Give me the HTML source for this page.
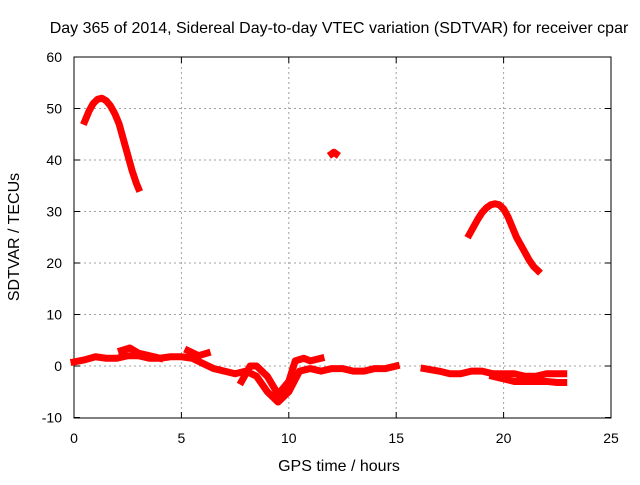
<!DOCTYPE html>
<html><head><meta charset="utf-8"><style>
body{margin:0;background:#fff}
svg text{font-family:"Liberation Sans",sans-serif;font-size:14px;fill:#000}
svg text.big{font-size:16px}
</style></head><body>
<svg id="chart" width="640" height="480">
<rect width="640" height="480" fill="#fff"/>
<text class="big" x="339" y="33" text-anchor="middle">Day 365 of 2014, Sidereal Day-to-day VTEC variation (SDTVAR) for receiver cpar</text>
<g id="grid"></g>
<g id="axes"></g>
<g id="series"></g>
<text class="big" x="339" y="471" text-anchor="middle">GPS time / hours</text>
<text class="big" transform="translate(19,237) rotate(-90)" text-anchor="middle">SDTVAR / TECUs</text>
</svg>
<script>
const xTicks=[0,5,10,15,20,25];
const yTicks=[-10,0,10,20,30,40,50,60];
const arcT1=[0.5,0.7,0.9,1.1,1.3,1.5,1.7,1.9,2.1,2.3,2.5,2.7,2.9,3.0];
const arcV1=[47.5,49.5,51,51.8,52,51.5,50.5,49,47,44,41,38,35.5,34.5];
const dotT=[12.0,12.1,12.2];
const dotV=[41.2,41.5,41.2];
const arcT2=[18.4,18.6,18.8,19.0,19.2,19.4,19.6,19.8,20.0,20.2,20.4,20.6,20.8,21.0,21.2,21.4,21.6];
const arcV2=[25.5,27,28.5,29.8,30.7,31.3,31.5,31.3,30.5,29,27,25,23.5,22,20.5,19.3,18.5];
const lowT1=[0,0.5,1,1.5,2,2.5,3,3.5,4,4.5,5,5.5,6,6.5,7,7.5,8,8.5,9,9.5,10,10.5,11,11.5,12,12.5,13,13.5,14,14.5,15];
const lowV1=[0.8,1.2,1.8,1.5,1.5,2,2,1.5,1.5,1.8,1.8,1.5,0.5,-0.5,-1,-1.5,-1,-2,-5,-7,-5,-1,-0.5,-1,-0.5,-0.5,-1,-1,-0.5,-0.5,0];
const lowT2=[16.3,17,17.5,18,18.5,19,19.5,20,20.5,21,21.5,22,22.5,22.8];
const lowV2=[-0.5,-1,-1.5,-1.5,-1,-1,-1.5,-1.5,-1.5,-2,-2,-1.5,-1.5,-1.5];
const brT1=[2.2,2.6,3,3.5,4];
const brV1=[3,3.5,2.5,2,1.5];
const brT2=[5.3,5.8,6.2];
const brV2=[3,2,2.5];
const brT3=[7.8,8.2,8.5,9,9.5,10,10.3,10.7,11,11.5];
const brV3=[-3,0,0,-2,-5.5,-3,1,1.5,1,1.5];
const brT4=[19.5,20,20.5,21,21.5,22,22.5,22.8];
const brV4=[-2,-2.5,-3,-3,-3,-3,-3.2,-3.2];

const X=t=>74+t*(611-74)/25;
const Y=v=>366-v*(366-57)/60;
const NS='http://www.w3.org/2000/svg';
function mk(tag,attrs,parent){const e=document.createElementNS(NS,tag);for(const k in attrs)e.setAttribute(k,attrs[k]);parent.appendChild(e);return e;}
const grid=document.getElementById('grid'),axes=document.getElementById('axes'),ser=document.getElementById('series');
xTicks.forEach(t=>{
  if(t>0&&t<25){const l=mk('line',{x1:X(t),x2:X(t),y1:57,y2:418,stroke:'#a0a0a0','stroke-dasharray':'2,3'},grid);
  
  }
  mk('line',{x1:X(t),x2:X(t),y1:418,y2:412,stroke:'#000'},axes);
  mk('line',{x1:X(t),x2:X(t),y1:57,y2:63,stroke:'#000'},axes);
  const tx=mk('text',{x:X(t),y:443,'text-anchor':'middle'},axes);tx.textContent=t;
  
  
});
yTicks.forEach(v=>{
  if(v>-10&&v<60){const l=mk('line',{x1:74,x2:611,y1:Y(v),y2:Y(v),stroke:'#a0a0a0','stroke-dasharray':'2,3'},grid);
  
  }
  mk('line',{x1:74,x2:80,y1:Y(v),y2:Y(v),stroke:'#000'},axes);
  mk('line',{x1:605,x2:611,y1:Y(v),y2:Y(v),stroke:'#000'},axes);
  const tx=mk('text',{x:62,y:Y(v)+5,'text-anchor':'end'},axes);tx.textContent=v;
  
  
});
mk('rect',{x:74,y:57,width:537,height:361,fill:'none',stroke:'#000'},axes);
function series(ts,vs,name){
  const p=mk('polyline',{points:ts.map((t,i)=>X(t)+','+Y(vs[i])).join(' '),fill:'none',stroke:'#f00','stroke-width':7,'stroke-linejoin':'round','stroke-linecap':'square'},ser);
  
  
}
series(arcT1,arcV1,'arc-early');
series(dotT,dotV,'isolated-point');
series(arcT2,arcV2,'arc-late');
series(lowT1,lowV1,'baseline-1');
series(lowT2,lowV2,'baseline-2');
series(brT1,brV1,'branch-1');
series(brT2,brV2,'branch-2');
series(brT3,brV3,'branch-3');
series(brT4,brV4,'branch-4');
</script>
</body></html>
